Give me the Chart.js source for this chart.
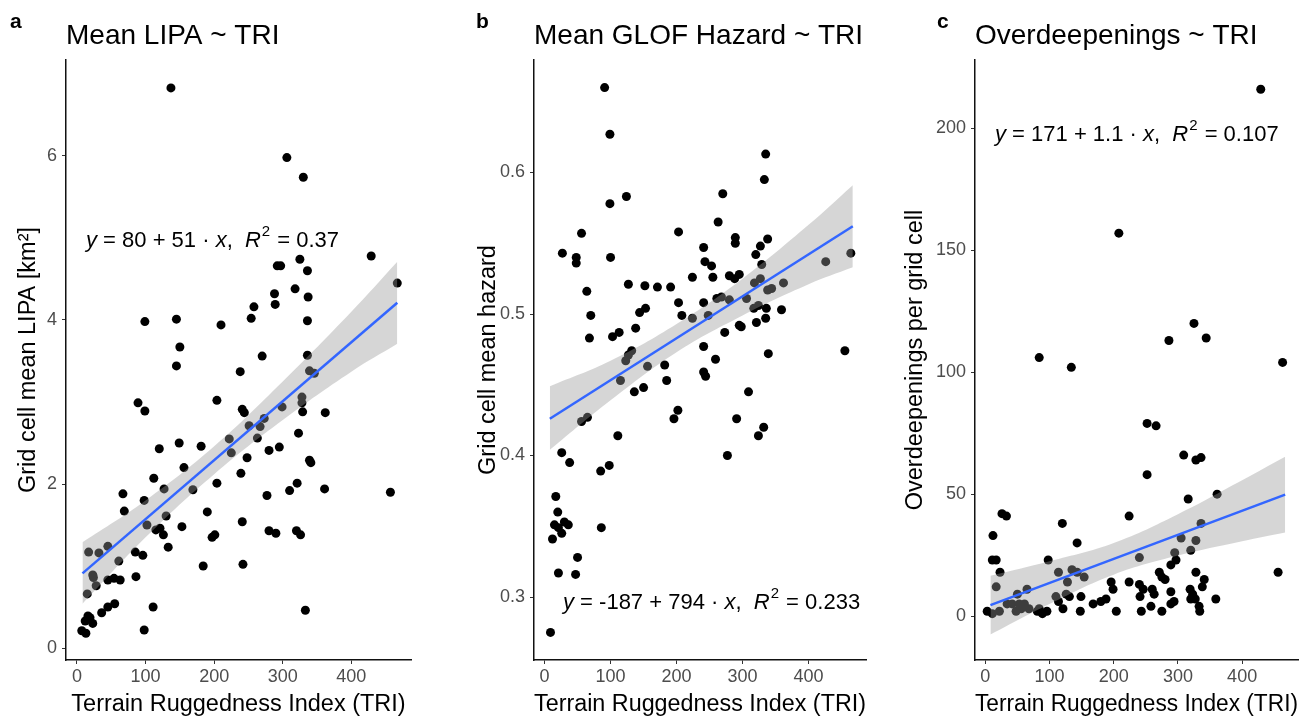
<!DOCTYPE html>
<html lang="en">
<head>
<meta charset="UTF-8">
<title>TRI panels</title>
<script src="https://cdn.jsdelivr.net/npm/chart.js"></script>
<style>
  body { margin: 0; background: #fff; }
  canvas { position: absolute; top: 0; }
</style>
</head>
<body>
<canvas id="chartA" width="440" height="720" style="left:0px"></canvas>
<canvas id="chartB" width="440" height="720" style="left:460px"></canvas>
<canvas id="chartC" width="421" height="720" style="left:895px"></canvas>
<script>
// ---- data ----
const triA = [137,99,145,210,150,306,330,429,467,292,297,325,336,318,288,289,258,254,337,336,270,336,238,339,346,328,328,299,329,362,241,244,273,251,267,263,323,222,225,280,295,248,339,341,239,321,310,277,361,457,241,280,290,320,326,242,333,145,204,89,99,120,149,181,156,112,127,169,204,67,98,69,190,130,102,115,121,126,153,133,197,201,184,17,32,45,85,96,61,23,24,28,15,45,54,63,86,111,36,45,55,16,12,23,19,7,13,98];
const lipaA = [6.83,3.98,4.01,3.94,3.67,5.98,5.74,4.78,4.45,4.66,4.66,4.74,4.60,4.38,4.32,4.19,4.16,4.02,4.28,3.99,3.56,3.57,3.37,3.38,3.35,3.06,2.99,2.94,2.88,2.87,2.91,2.87,2.80,2.71,2.70,2.56,2.62,2.55,2.38,2.41,2.45,2.32,2.29,2.26,2.13,2.01,1.92,1.86,1.94,1.90,1.54,1.43,1.40,1.43,1.38,1.02,0.46,3.44,3.02,2.99,2.89,2.43,2.50,2.46,2.20,2.07,1.94,1.93,2.01,1.88,1.80,1.67,1.66,1.61,1.50,1.44,1.46,1.38,1.48,1.23,1.35,1.38,1.00,1.17,1.16,1.24,1.17,1.13,1.06,0.89,0.86,0.76,0.66,0.83,0.85,0.83,0.87,0.50,0.43,0.50,0.54,0.39,0.33,0.30,0.37,0.21,0.18,0.22];

const triB = [91,99,99,124,56,203,27,48,48,100,64,127,152,171,191,70,144,153,203,208,68,103,113,138,132,127,123,115,156,182,185,136,150,202,196,56,65,111,26,38,85,98,17,20,15,21,26,30,36,12,86,50,21,47,9,335,333,270,263,241,289,289,327,338,243,253,320,329,426,464,224,255,280,295,288,327,318,338,344,362,241,261,268,280,306,317,324,336,359,224,248,335,295,298,321,273,241,259,339,455,241,244,309,291,332,324,277];
const hazardB = [0.660,0.627,0.578,0.583,0.557,0.558,0.543,0.540,0.536,0.540,0.516,0.521,0.520,0.519,0.519,0.499,0.501,0.504,0.508,0.499,0.483,0.484,0.487,0.490,0.474,0.471,0.467,0.453,0.463,0.464,0.453,0.445,0.448,0.432,0.426,0.424,0.427,0.414,0.402,0.395,0.389,0.393,0.371,0.360,0.351,0.349,0.345,0.353,0.351,0.341,0.349,0.328,0.317,0.316,0.275,0.613,0.595,0.585,0.565,0.547,0.554,0.550,0.548,0.553,0.537,0.534,0.542,0.535,0.537,0.543,0.526,0.526,0.527,0.528,0.525,0.525,0.522,0.517,0.518,0.522,0.508,0.511,0.512,0.510,0.511,0.504,0.506,0.504,0.503,0.497,0.499,0.497,0.492,0.491,0.494,0.487,0.477,0.468,0.472,0.474,0.459,0.456,0.445,0.426,0.420,0.414,0.400];

const triC = [208,84,429,325,286,344,463,252,266,309,328,336,252,316,361,224,336,305,328,320,295,240,297,289,328,341,338,456,271,275,280,224,240,246,241,260,263,289,294,289,319,323,320,327,359,243,258,275,333,334,134,26,33,12,120,11,17,143,23,98,114,135,143,154,128,17,50,65,110,126,131,114,121,149,148,196,199,168,180,188,204,3,11,22,34,42,53,61,48,56,68,81,89,96,84];
const overdeepC = [157,106,216,120,113,114,104,79,78,66,64,65,58,48,50,41,38,32,31,27,26,24,23,21,18,15,12,18,18,16,15,14,13,11,8,11,9,10,6,5,11,9,7,7,7,2,4,2,4,2,102,42,41,33,38,23,23,30,18,23,18,19,18,16,14,12,9,11,8,9,8,6,3,8,2,14,11,5,6,7,2,2,1,2,5,5,5,5,2,3,3,2,1,2,3];

// fitted line ends and confidence band
const fitX = [8, 467];
const fitA = [0.91, 4.21];
const fitB = [0.426, 0.562];
const fitC = [4.5, 49.8];
const bandX = [8, 100, 200, 300, 400, 467];
const bandUpA = [1.29, 1.80, 2.46, 3.25, 4.10, 4.71];
const bandLoA = [0.54, 1.35, 2.12, 2.78, 3.37, 3.71];
const bandUpB = [0.449, 0.467, 0.493, 0.525, 0.563, 0.591];
const bandLoB = [0.404, 0.439, 0.473, 0.499, 0.521, 0.533];
const bandUpC = [16.5, 22.5, 30, 41.8, 55.7, 65.3];
const bandLoC = [-7.5, 5, 17, 24.8, 30.7, 34.3];

// tick labels
const xTicks = [0, 100, 200, 300, 400];
const yTicksA = [0, 2, 4, 6];
const yTicksB = [0.3, 0.4, 0.5, 0.6];
const yTicksC = [0, 50, 100, 150, 200];

// equation labels (1 = italic, 2 = superscript)
const eqA = [['y', 1], [' = 80 + 51 \u00b7 ', 0], ['x', 1], [',  ', 0], ['R', 1], ['2', 2], [' = 0.37', 0]];
const eqB = [['y', 1], [' = -187 + 794 \u00b7 ', 0], ['x', 1], [',  ', 0], ['R', 1], ['2', 2], [' = 0.233', 0]];
const eqC = [['y', 1], [' = 171 + 1.1 \u00b7 ', 0], ['x', 1], [',  ', 0], ['R', 1], ['2', 2], [' = 0.107', 0]];

const FONT = '"Liberation Sans", Arial, sans-serif';
Chart.defaults.font.family = FONT;

const toPts = (xs, ys) => xs.map((x, i) => ({ x: x, y: ys[i] }));

// draws the panel letter and the regression equation
const panelText = {
  id: 'panelText',
  afterDraw(chart, args, opts) {
    const ctx = chart.ctx;
    ctx.save();
    ctx.fillStyle = '#000';
    ctx.textBaseline = 'alphabetic';
    ctx.font = 'bold 21px ' + FONT;
    ctx.fillText(opts.letter, opts.letterX, 28);
    let x = opts.eqX;
    const y = opts.eqY;
    opts.eq.forEach(([t, style]) => {
      if (style === 2) {
        ctx.font = '15px ' + FONT;
        ctx.fillText(t, x + 1, y - 11);
        x += ctx.measureText(t).width + 2;
      } else {
        ctx.font = (style === 1 ? 'italic ' : '') + '22px ' + FONT;
        ctx.fillText(t, x, y);
        x += ctx.measureText(t).width;
      }
    });
    ctx.restore();
  }
};

function makePanel(id, cfg) {
  const axisCommon = {
    grid: { display: true, drawOnChartArea: false, drawTicks: true, tickLength: 4, tickColor: '#333', tickWidth: 1 },
    border: { display: true, color: '#111', width: 1.5 }
  };
  new Chart(document.getElementById(id), {
    type: 'scatter',
    data: {
      datasets: [
        {
          type: 'line', data: toPts(fitX, cfg.fit), borderColor: '#3366FF', borderWidth: 2.5,
          pointRadius: 0, fill: false
        },
        {
          type: 'line', data: toPts(bandX, cfg.up), borderWidth: 0, pointRadius: 0, tension: 0.4,
          fill: '+1', backgroundColor: 'rgba(153,153,153,0.4)'
        },
        {
          type: 'line', data: toPts(bandX, cfg.lo), borderWidth: 0, pointRadius: 0, tension: 0.4, fill: false
        },
        {
          data: toPts(cfg.xs, cfg.ys), backgroundColor: '#000', borderWidth: 0, pointRadius: 4.5
        }
      ]
    },
    options: {
      responsive: false,
      animation: false,
      layout: { padding: { left: 0, right: cfg.padRight, top: 0, bottom: 0 } },
      plugins: {
        legend: { display: false },
        tooltip: { enabled: false },
        title: {
          display: true, text: cfg.title, align: 'start', fullSize: false, color: '#000',
          font: { size: 28, weight: 'normal' }, padding: { top: 19, bottom: 7.4 }
        },
        panelText: { letter: cfg.letter, letterX: cfg.letterX, eq: cfg.eq, eqX: cfg.eqX, eqY: cfg.eqY }
      },
      scales: {
        x: Object.assign({
          type: 'linear', min: -16, max: 487,
          afterBuildTicks: s => { s.ticks = xTicks.map(v => ({ value: v })); },
          afterFit: s => { s.height = 60; },
          ticks: { color: '#4d4d4d', font: { size: 18 }, padding: 2 },
          title: {
            display: true, text: 'Terrain Ruggedness Index (TRI)', color: '#000',
            font: { size: 23.5 }, padding: { top: 0, bottom: 1 }
          }
        }, axisCommon),
        y: Object.assign({
          type: 'linear', min: cfg.yMin, max: cfg.yMax,
          afterBuildTicks: s => { s.ticks = cfg.yTicks.map(v => ({ value: v })); },
          afterFit: s => { s.width = cfg.axisW; },
          ticks: { color: '#4d4d4d', font: { size: 18 }, padding: 5, callback: cfg.fmt },
          title: {
            display: true, text: cfg.yTitle, color: '#000',
            font: { size: 23.5 }, padding: { top: cfg.yTitlePad, bottom: 0 }
          }
        }, axisCommon)
      }
    },
    plugins: [panelText]
  });
}

makePanel('chartA', {
  title: 'Mean LIPA ~ TRI', yTitle: 'Grid cell mean LIPA [km\u00b2]', letter: 'a', letterX: 10,
  xs: triA, ys: lipaA, fit: fitA, up: bandUpA, lo: bandLoA,
  yMin: -0.146, yMax: 7.17, yTicks: yTicksA, fmt: v => String(v),
  axisW: 66, yTitlePad: 14, padRight: 29, eq: eqA, eqX: 86, eqY: 247
});
makePanel('chartB', {
  title: 'Mean GLOF Hazard ~ TRI', yTitle: 'Grid cell mean hazard', letter: 'b', letterX: 16,
  xs: triB, ys: hazardB, fit: fitB, up: bandUpB, lo: bandLoB,
  yMin: 0.2555, yMax: 0.6795, yTicks: yTicksB, fmt: v => v.toFixed(1),
  axisW: 74, yTitlePad: 14, padRight: 34, eq: eqB, eqX: 103, eqY: 609
});
makePanel('chartC', {
  title: 'Overdeepenings ~ TRI', yTitle: 'Overdeepenings per grid cell', letter: 'c', letterX: 42,
  xs: triC, ys: overdeepC, fit: fitC, up: bandUpC, lo: bandLoC,
  yMin: -18, yMax: 228, yTicks: yTicksC, fmt: v => String(v),
  axisW: 80, yTitlePad: 6, padRight: 18, eq: eqC, eqX: 100, eqY: 141
});
</script>
</body>
</html>
